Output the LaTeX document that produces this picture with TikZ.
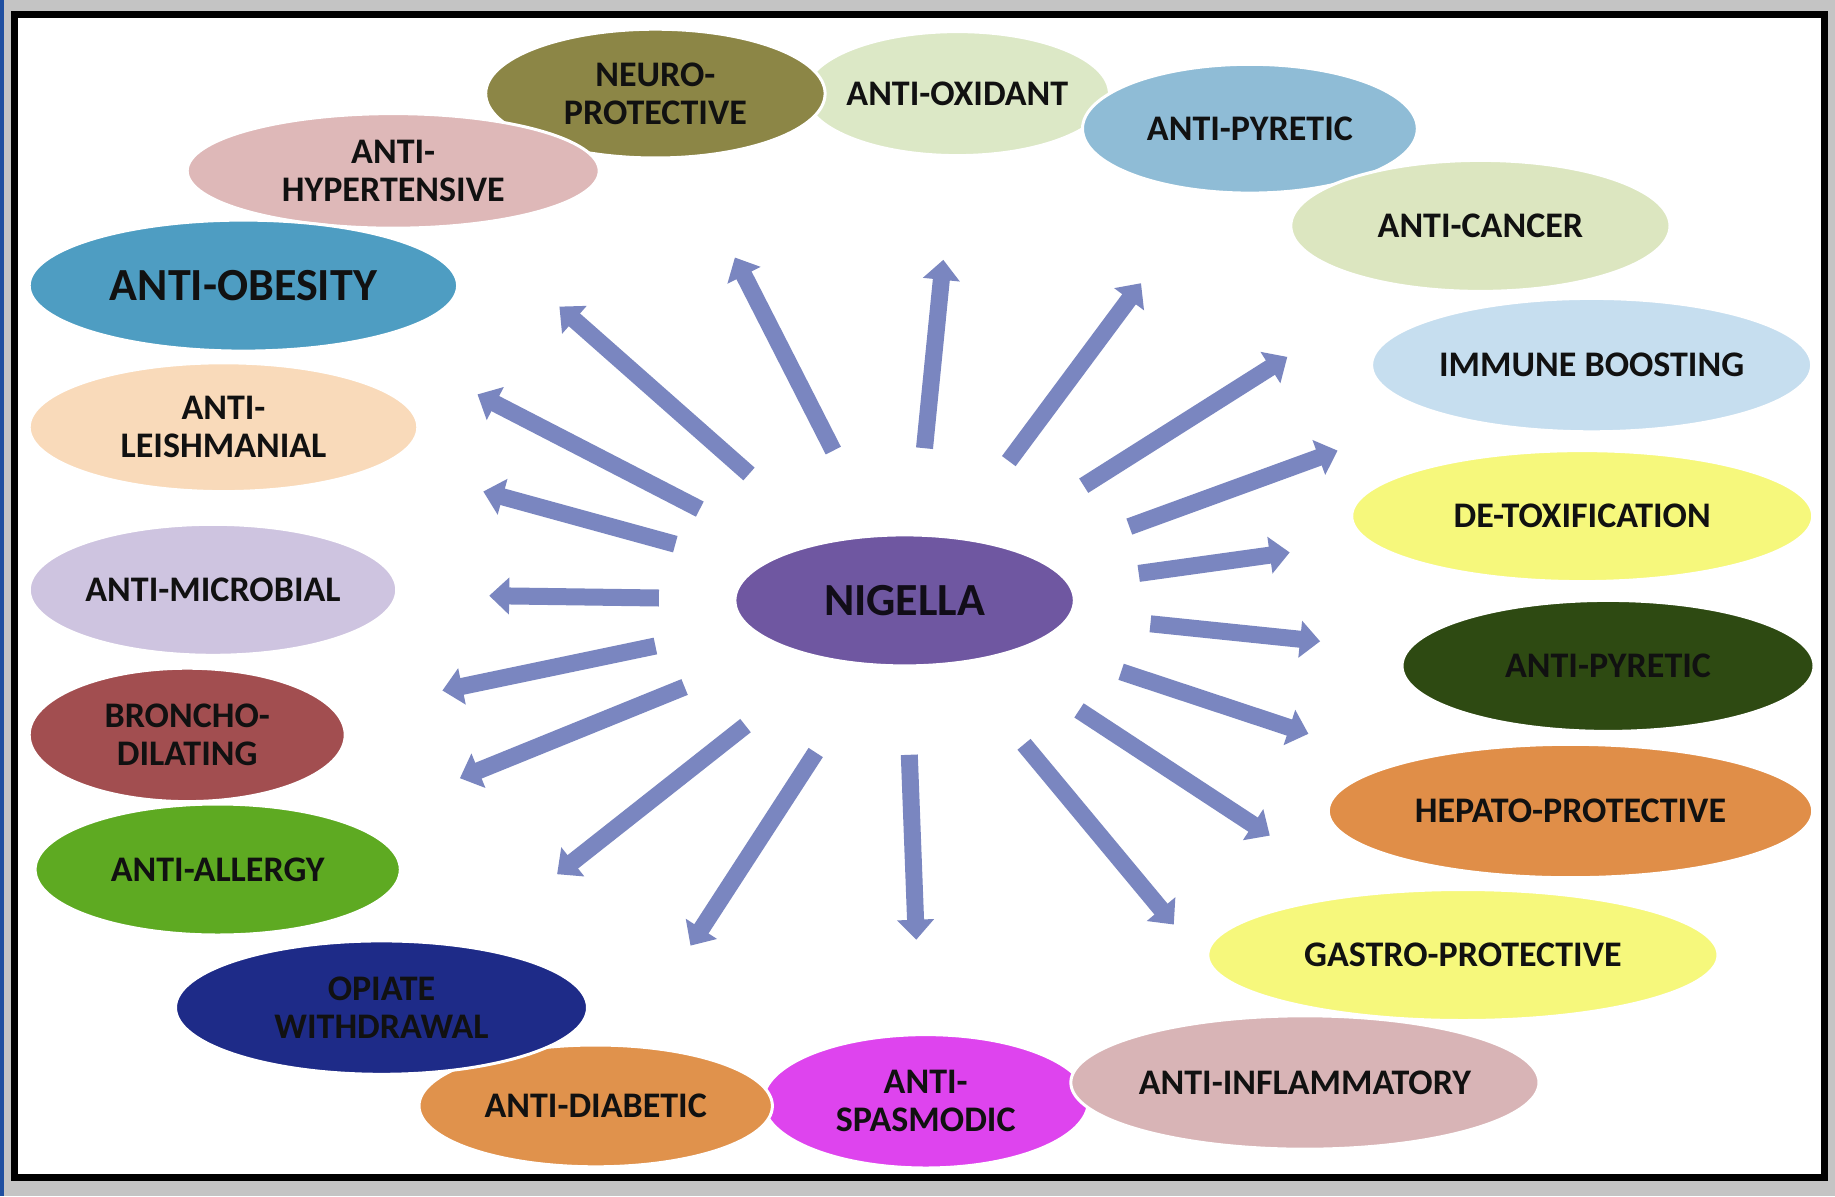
\documentclass[tikz,border=0pt]{standalone}
\usepackage{fontspec}
\setmainfont{Carlito}
\usetikzlibrary{arrows.meta,shapes.geometric}
\definecolor{cNeuro}{HTML}{8C8646}
\definecolor{cOxid}{HTML}{DCE8C6}
\definecolor{cPyrA}{HTML}{8FBCD6}
\definecolor{cCancer}{HTML}{DCE6C0}
\definecolor{cImmune}{HTML}{C6DEEF}
\definecolor{cDetox}{HTML}{F6F87C}
\definecolor{cPyrB}{HTML}{2E4A12}
\definecolor{cHepato}{HTML}{E08E48}
\definecolor{cGastro}{HTML}{F6F87C}
\definecolor{cInflam}{HTML}{D8B4B6}
\definecolor{cSpasm}{HTML}{DE44EE}
\definecolor{cDiab}{HTML}{E0924C}
\definecolor{cOpiate}{HTML}{1E2B88}
\definecolor{cAllergy}{HTML}{5EAA22}
\definecolor{cBroncho}{HTML}{A24E50}
\definecolor{cMicro}{HTML}{CEC4E0}
\definecolor{cLeish}{HTML}{F9DABA}
\definecolor{cObesity}{HTML}{4E9DC2}
\definecolor{cHyper}{HTML}{DEB8B8}
\definecolor{cNigella}{HTML}{6F57A1}
\definecolor{cRay}{HTML}{7A86C0}
\definecolor{cBg}{HTML}{C4C4C4}
\definecolor{cStrip}{HTML}{1F4FA0}
\definecolor{cInk}{HTML}{111111}
\tikzset{
  blob/.style={ellipse, draw=white, line width=3pt, inner sep=0pt},
  lbl/.style={font=\bfseries\fontsize{36}{38}\selectfont, text=cInk, align=center, inner sep=0pt},
  ray/.style={draw=cRay, line width=17pt, -{Triangle[width=36pt,length=20pt]}},
}
\begin{document}
\begin{tikzpicture}[x=1pt,y=-1pt]
\useasboundingbox (0,0) rectangle (1835,1196);
% background and frame
\fill[cBg] (0,0) rectangle (1835,1196);
\fill[cStrip] (0,0) rectangle (4,1196);
\fill[white] (14.5,15) rectangle (1824.5,1177.5);
\draw[line width=7pt] (14.5,15) rectangle (1824.5,1177.5);
% ellipses
\node[blob, fill=cOxid,    minimum width=304.2pt, minimum height=124.0pt] (oxid)    at (957.3,93.6) {};
\node[blob, fill=cNeuro,   minimum width=339.4pt, minimum height=128.8pt] (neuro)   at (655.4,93.6) {};
\node[blob, fill=cHyper,   minimum width=412.0pt, minimum height=114.6pt] (hyper)   at (393.2,170.9) {};
\node[blob, fill=cPyrA,    minimum width=334.8pt, minimum height=128.8pt] (pyrA)    at (1249.9,128.7) {};
\node[blob, fill=cCancer,  minimum width=379.2pt, minimum height=131.0pt] (cancer)  at (1480.4,225.9) {};
\node[blob, fill=cImmune,  minimum width=440.0pt, minimum height=133.4pt] (immune)  at (1591.6,365.1) {};
\node[blob, fill=cDetox,   minimum width=461.0pt, minimum height=131.0pt] (detox)   at (1582.2,516.1) {};
\node[blob, fill=cPyrB,    minimum width=412.0pt, minimum height=131.0pt] (pyrB)    at (1608.0,665.9) {};
\node[blob, fill=cHepato,  minimum width=484.4pt, minimum height=133.4pt] (hepato)  at (1570.5,811.0) {};
\node[blob, fill=cGastro,  minimum width=510.2pt, minimum height=131.0pt] (gastro)  at (1462.9,955.0) {};
\node[blob, fill=cSpasm,   minimum width=325.4pt, minimum height=133.4pt] (spasm)   at (925.7,1101.3) {};
\node[blob, fill=cDiab,    minimum width=353.4pt, minimum height=121.8pt] (diab)    at (595.7,1105.9) {};
\node[blob, fill=cOpiate,  minimum width=412.0pt, minimum height=133.4pt] (opiate)  at (381.5,1007.6) {};
\node[blob, fill=cInflam,  minimum width=468.2pt, minimum height=133.4pt] (inflam)  at (1304.9,1082.5) {};
\node[blob, fill=cAllergy, minimum width=365.2pt, minimum height=131.0pt] (allergy) at (217.7,869.5) {};
\node[blob, fill=cBroncho, minimum width=316.0pt, minimum height=133.4pt] (broncho) at (187.2,734.9) {};
\node[blob, fill=cMicro,   minimum width=367.4pt, minimum height=131.0pt] (micro)   at (213.0,589.8) {};
\node[blob, fill=cLeish,   minimum width=388.6pt, minimum height=128.8pt] (leish)   at (223.5,427.2) {};
\node[blob, fill=cObesity, minimum width=428.4pt, minimum height=131.0pt] (obesity) at (243.4,285.6) {};
\node[blob, fill=cNigella, minimum width=339.4pt, minimum height=131.0pt] (nigella) at (904.6,600.4) {};
% rays
\foreach \i/\tx/\ty/\hx/\hy in {
  1/833.3/450.6/734.9/257.5,
  2/749.0/474.0/559.4/306.6,
  3/699.8/509.1/477.5/394.4,
  4/675.3/544.2/483.3/491.5,
  5/658.9/598.0/489.2/595.7,
  6/655.4/646.0/442.4/690.5,
  7/684.6/687.0/459.9/778.2,
  8/745.5/725.6/557.1/874.2,
  9/815.7/752.5/690.5/945.6,
  10/909.3/754.8/916.3/939.7,
  11/1024.0/744.3/1173.8/924.5,
  12/1079.0/710.4/1269.8/835.6,
  13/1121.1/671.8/1308.4/733.8,
  14/1150.4/623.8/1320.1/641.3,
  15/1138.7/573.4/1289.7/552.4,
  16/1129.3/526.6/1337.6/450.6,
  17/1083.7/485.7/1287.3/356.9,
  18/1008.8/461.1/1141.0/283.2,
  19/924.5/448.2/943.3/259.8}{
  \coordinate (t\i) at (\tx,\ty);
  \coordinate (h\i) at (\hx,\hy);
  \draw[ray] (t\i) -- (h\i);
}
% labels
\node[lbl] (neuroT)   at (neuro)   {NEURO-\\PROTECTIVE};
\node[lbl] (oxidT)    at (oxid)    {ANTI-OXIDANT};
\node[lbl] (hyperT)   at (hyper)   {ANTI-\\HYPERTENSIVE};
\node[lbl] (pyrAT)    at (pyrA)    {ANTI-PYRETIC};
\node[lbl] (cancerT)  at (cancer)  {ANTI-CANCER};
\node[lbl] (immuneT)  at (immune)  {IMMUNE BOOSTING};
\node[lbl] (detoxT)   at (detox)   {DE-TOXIFICATION};
\node[lbl] (pyrBT)    at (pyrB)    {ANTI-PYRETIC};
\node[lbl] (hepatoT)  at (hepato)  {HEPATO-PROTECTIVE};
\node[lbl] (gastroT)  at (gastro)  {GASTRO-PROTECTIVE};
\node[lbl] (inflamT)  at (inflam)  {ANTI-INFLAMMATORY};
\node[lbl] (spasmT)   at (spasm)   {ANTI-\\SPASMODIC};
\node[lbl] (diabT)    at (diab)    {ANTI-DIABETIC};
\node[lbl] (opiateT)  at (opiate)  {OPIATE\\WITHDRAWAL};
\node[lbl] (allergyT) at (allergy) {ANTI-ALLERGY};
\node[lbl] (bronchoT) at (broncho) {BRONCHO-\\DILATING};
\node[lbl] (microT)   at (micro)   {ANTI-MICROBIAL};
\node[lbl] (leishT)   at (leish)   {ANTI-\\LEISHMANIAL};
\node[lbl, font=\bfseries\fontsize{46}{50}\selectfont] (obesityT) at (obesity) {ANTI-OBESITY};
\node[lbl, font=\bfseries\fontsize{46}{50}\selectfont, text=black!85!cNigella] (nigellaT) at (nigella) {NIGELLA};
\end{tikzpicture}
\end{document}
